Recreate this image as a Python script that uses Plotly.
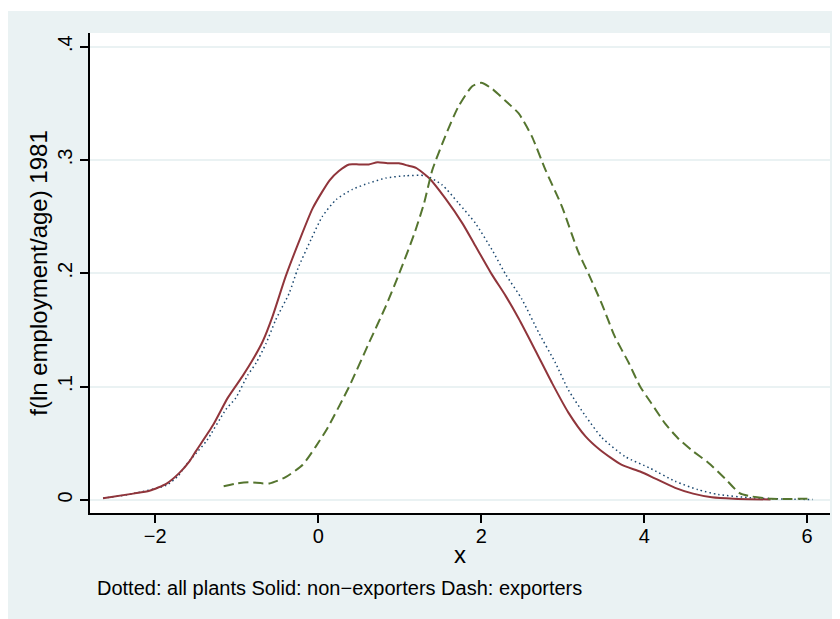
import plotly.graph_objects as go

# kernel density estimates
x_non = [-2.64, -2.27, -2.07, -1.86, -1.70, -1.58, -1.50, -1.29, -1.11, -0.93, -0.80,
         -0.68, -0.56, -0.40, -0.23, -0.07, 0.05, 0.14, 0.25, 0.38, 0.50, 0.62, 0.73,
         0.85, 0.99, 1.10, 1.20, 1.36, 1.56, 1.77, 1.93, 2.13, 2.30, 2.46, 2.66, 2.87,
         3.07, 3.28, 3.46, 3.72, 3.95, 4.13, 4.38, 4.60, 4.83, 5.10, 5.55]
y_non = [0.0014, 0.0055, 0.008, 0.0144, 0.024, 0.034, 0.043, 0.066, 0.090, 0.109, 0.124,
         0.140, 0.162, 0.197, 0.229, 0.257, 0.272, 0.282, 0.290, 0.296, 0.296, 0.296, 0.298,
         0.297, 0.297, 0.295, 0.293, 0.284, 0.266, 0.244, 0.224, 0.199, 0.180, 0.160, 0.1325, 0.103,
         0.077, 0.056, 0.044, 0.031, 0.025, 0.019, 0.0106, 0.0055, 0.0023, 0.001, 0.0003]

x_all = [-2.64, -2.27, -1.86, -1.72, -1.62, -1.50, -1.37, -1.13, -1.01, -0.865, -0.76,
         -0.64, -0.52, -0.355, -0.25, -0.09, 0.05, 0.22, 0.42, 0.62, 0.83, 1.07, 1.32,
         1.52, 1.72, 1.93, 2.13, 2.30, 2.50, 2.71, 2.91, 3.07, 3.28, 3.48, 3.77, 4.07,
         4.38, 4.66, 4.91, 5.32, 5.70, 6.07]
y_all = [0.0014, 0.0055, 0.013, 0.021, 0.031, 0.041, 0.052, 0.080, 0.090, 0.110, 0.121,
         0.138, 0.159, 0.1825, 0.204, 0.2295, 0.250, 0.265, 0.274, 0.2795, 0.284, 0.286, 0.286,
         0.278, 0.262, 0.244, 0.221, 0.199, 0.177, 0.147, 0.121, 0.097, 0.074, 0.055, 0.038, 0.028,
         0.0164, 0.009, 0.0047, 0.0018, 0.0008, 0.0003]

x_exp = [-1.16, -1.0, -0.85, -0.60, -0.40, -0.19, -0.03, 0.115, 0.38, 0.62, 0.83, 0.99,
         1.18, 1.30, 1.40, 1.56, 1.72, 1.89, 2.00, 2.13, 2.30, 2.46, 2.62, 2.79,
         2.99, 3.19, 3.32, 3.48, 3.64, 3.81, 3.95, 4.09, 4.26, 4.42, 4.58, 4.79, 4.99,
         5.17, 5.32, 5.56, 6.07]
y_exp = [0.012, 0.0145, 0.0155, 0.0145, 0.020, 0.031, 0.047, 0.0635, 0.100, 0.138, 0.171, 0.199,
         0.235, 0.262, 0.291, 0.321, 0.347, 0.365, 0.368, 0.363, 0.352, 0.341, 0.321, 0.291,
         0.259, 0.219, 0.199, 0.173, 0.144, 0.121, 0.100, 0.085, 0.067, 0.054, 0.044, 0.0326, 0.019,
         0.006, 0.003, 0.001, 0.001]

x_ticks = [-2, 0, 2, 4, 6]
y_ticks = [0, 0.1, 0.2, 0.3, 0.4]
y_ticktext = ['0', '.1', '.2', '.3', '.4']

bg = '#EAF2F3'
fnt = 'Arial, Liberation Sans, sans-serif'

fig = go.Figure()
fig.add_trace(go.Scatter(x=x_all, y=y_all, mode='lines', name='all plants',
                         line=dict(color='#1a476f', width=1.5, dash='1.5px,3px',
                                   shape='spline', smoothing=0.6)))
fig.add_trace(go.Scatter(x=x_non, y=y_non, mode='lines', name='non-exporters',
                         line=dict(color='#90353b', width=2, shape='spline', smoothing=0.6)))
fig.add_trace(go.Scatter(x=x_exp, y=y_exp, mode='lines', name='exporters',
                         line=dict(color='#55752f', width=2, dash='10px,5px',
                                   shape='spline', smoothing=0.6)))

# thin white strip along the top, like the original export
fig.add_shape(type='rect', xref='paper', yref='paper', x0=-0.2, x1=1.2, y0=1.0458, y1=1.2,
              fillcolor='white', line_width=0, layer='below')

fig.add_annotation(text='Dotted: all plants Solid: non\u2212exporters Dash: exporters',
                   xref='paper', yref='paper', x=0.0068, y=-0.156, xanchor='left', yanchor='middle',
                   showarrow=False, font=dict(size=20, color='black', family=fnt))

# page puts the figure 8px in from the corner, so size it to fill the rest
fig.update_layout(
    width=832, height=611,
    margin=dict(l=82, r=10, t=25, b=106),
    paper_bgcolor=bg,
    plot_bgcolor='white',
    showlegend=False,
    font=dict(family=fnt, size=20, color='black'),
)
fig.update_xaxes(range=[-2.80, 6.28], tickvals=x_ticks, showgrid=False, zeroline=False,
                 showline=True, linecolor='black', linewidth=1.5, automargin=False,
                 ticks='outside', ticklen=8, tickwidth=1.5, tickcolor='black',
                 ticklabelstandoff=-4,
                 title=dict(text='x', standoff=0), tickfont=dict(size=20))
fig.update_yaxes(range=[-0.0116, 0.412], tickvals=y_ticks, ticktext=y_ticktext, tickangle=-90,
                 showgrid=True, gridcolor=bg, gridwidth=1.5, zeroline=False,
                 showline=True, linecolor='black', linewidth=1.5, automargin=False,
                 ticks='outside', ticklen=8, tickwidth=1.5, tickcolor='black',
                 title=dict(text='f(ln employment/age) 1981', standoff=0), tickfont=dict(size=20))

fig.write_html("out.html")
